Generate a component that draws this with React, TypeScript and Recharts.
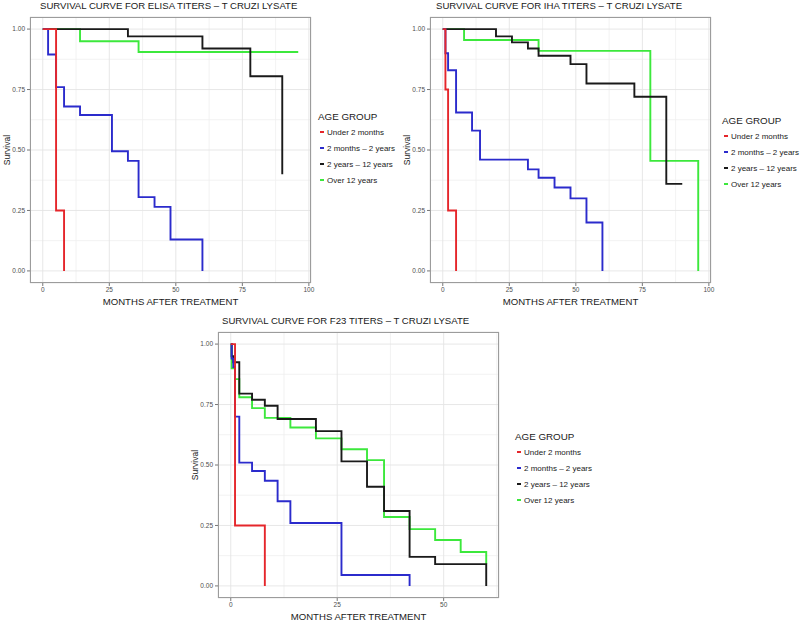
import React from 'react';
import { LineChart, Line, XAxis, YAxis, CartesianGrid } from 'recharts';

const FONT = '"Liberation Sans", Arial, Helvetica, sans-serif';

const groupNames = ['Under 2 months', '2 months – 2 years', '2 years – 12 years', 'Over 12 years'];
const groupColors = ['#E5262B', '#2B2BCC', '#1A1A1A', '#3CE83C'];

// ELISA panel
const elisaUnder2mT = [0, 5, 8];
const elisaUnder2mS = [1, 0.25, 0];
const elisa2m2yT = [0, 2, 5, 8, 14, 26, 32, 36, 42, 48, 60];
const elisa2m2yS = [1, 0.895, 0.76, 0.68, 0.645, 0.495, 0.455, 0.305, 0.265, 0.13, 0];
const elisa2y12yT = [0, 32, 60, 78, 90];
const elisa2y12yS = [1, 0.97, 0.92, 0.805, 0.4];
const elisaOver12T = [0, 14, 36, 96];
const elisaOver12S = [1, 0.95, 0.905, 0.905];

// IHA panel
const ihaUnder2mT = [0, 1, 2, 5];
const ihaUnder2mS = [1, 0.75, 0.25, 0];
const iha2m2yT = [0, 1, 2, 5, 11, 14, 32, 36, 42, 48, 54, 60];
const iha2m2yS = [1, 0.9, 0.83, 0.655, 0.58, 0.46, 0.42, 0.385, 0.345, 0.3, 0.2, 0];
const iha2y12yT = [0, 20, 26, 32, 36, 48, 54, 72, 84, 90];
const iha2y12yS = [1, 0.97, 0.945, 0.92, 0.89, 0.855, 0.775, 0.72, 0.36, 0.36];
const ihaOver12T = [0, 8, 36, 78, 96];
const ihaOver12S = [1, 0.955, 0.91, 0.455, 0];

// F23 panel
const f23Under2mT = [0, 1, 8];
const f23Under2mS = [1, 0.25, 0];
const f232m2yT = [0, 0.2, 0.6, 1, 2, 5, 8, 11, 14, 26, 42];
const f232m2yS = [1, 0.94, 0.905, 0.7, 0.51, 0.475, 0.435, 0.35, 0.26, 0.045, 0];
const f232y12yT = [0, 0.2, 0.6, 2, 5, 8, 11, 20, 26, 32, 36, 42, 48, 60];
const f232y12yS = [1, 0.95, 0.925, 0.795, 0.77, 0.745, 0.69, 0.64, 0.515, 0.41, 0.31, 0.12, 0.09, 0];
const f23Over12T = [0, 0.2, 1, 2, 5, 8, 14, 20, 26, 32, 36, 42, 48, 54, 60];
const f23Over12S = [1, 0.9, 0.855, 0.78, 0.735, 0.695, 0.655, 0.61, 0.565, 0.52, 0.285, 0.235, 0.19, 0.14, 0.09];

const yTicks = [0, 0.25, 0.5, 0.75, 1];
const yMinor = [0.125, 0.375, 0.625, 0.875];
const xTicksLong = [0, 25, 50, 75, 100];
const xMinorLong = [12.5, 37.5, 62.5, 87.5];
const xTicksShort = [0, 25, 50];
const xMinorShort = [12.5, 37.5, 62.5];

const toRows = (t: number[], s: number[]) => t.map((v, i) => ({ t: v, s: s[i] }));

type PanelProps = {
  left: number;
  top: number;
  title: string;
  titleX: number;
  xDomain: [number, number];
  xTicks: number[];
  xMinor: number[];
  series: { t: number[]; s: number[] }[];
  legendX: number;
  legendY: number;
};

const W = 400;
const H = 300;
const PL = 30;
const PT = 17;
const PW = 281;
const PH = 266;

const Panel: React.FC<PanelProps> = ({ left, top, title, titleX, xDomain, xTicks, xMinor, series, legendX, legendY }) => {
  const tick = { fontSize: 6.5, fill: '#4d4d4d', fontFamily: FONT };
  const order = [3, 2, 1, 0];
  return (
    <div style={{ position: 'absolute', left, top, width: W, height: H }}>
      <LineChart width={W} height={H} margin={{ top: PT, right: W - PL - PW, bottom: 3, left: 0 }}>
        <CartesianGrid stroke="#efefef" strokeWidth={0.8} horizontalValues={yMinor} verticalValues={xMinor} />
        <CartesianGrid stroke="#e4e4e4" strokeWidth={0.9} />
        <XAxis
          type="number"
          dataKey="t"
          domain={xDomain}
          ticks={xTicks}
          allowDataOverflow
          axisLine={false}
          tickSize={3}
          tickMargin={1}
          height={14}
          tick={tick}
          tickLine={{ stroke: '#777' }}
        />
        <YAxis
          type="number"
          domain={[-0.05, 1.05]}
          ticks={yTicks}
          allowDataOverflow
          axisLine={false}
          tickSize={3}
          tickMargin={2}
          width={PL}
          tick={tick}
          tickLine={{ stroke: '#777' }}
          tickFormatter={(v: number) => v.toFixed(2)}
        />
        {order.map((g) => (
          <Line
            key={g}
            data={toRows(series[g].t, series[g].s)}
            dataKey="s"
            type="stepAfter"
            stroke={groupColors[g]}
            strokeWidth={1.9}
            dot={false}
            isAnimationActive={false}
          />
        ))}
      </LineChart>
      <div
        style={{
          position: 'absolute',
          left: PL,
          top: PT,
          width: PW,
          height: PH,
          border: '1px solid #9c9c9c',
          boxSizing: 'border-box',
          pointerEvents: 'none',
        }}
      />
      <div
        style={{
          position: 'absolute',
          left: titleX,
          top: PT - 17,
          fontSize: 9.6,
          lineHeight: '12px',
          color: '#1a1a1a',
          whiteSpace: 'nowrap',
          fontFamily: FONT,
        }}
      >
        {title}
      </div>
      <div
        style={{
          position: 'absolute',
          left: PL,
          width: PW,
          top: PT + PH + 13,
          textAlign: 'center',
          fontSize: 9.6,
          lineHeight: '12px',
          color: '#1a1a1a',
          whiteSpace: 'nowrap',
          fontFamily: FONT,
        }}
      >
        MONTHS AFTER TREATMENT
      </div>
      <div
        style={{
          position: 'absolute',
          left: PL - 23 - 30,
          top: PT + PH / 2 - 6,
          width: 60,
          textAlign: 'center',
          fontSize: 8.5,
          lineHeight: '12px',
          color: '#1a1a1a',
          transform: 'rotate(-90deg)',
          fontFamily: FONT,
        }}
      >
        Survival
      </div>
      <div style={{ position: 'absolute', left: legendX, top: legendY, fontFamily: FONT, whiteSpace: 'nowrap' }}>
        <div style={{ fontSize: 9.8, lineHeight: '14px', color: '#1a1a1a' }}>AGE GROUP</div>
        {groupNames.map((n, i) => (
          <div key={n} style={{ display: 'flex', alignItems: 'center', height: 16, paddingLeft: 2 }}>
            <span style={{ display: 'inline-block', width: 4, height: 1.6, background: groupColors[i], marginRight: 3 }} />
            <span style={{ fontSize: 8, color: '#1a1a1a' }}>{n}</span>
          </div>
        ))}
      </div>
    </div>
  );
};

export default function App() {
  return (
    <div style={{ position: 'fixed', left: 0, top: 0, width: 800, height: 621, overflow: 'hidden', background: '#fff' }}>
      <Panel
        left={0}
        top={0}
        title="SURVIVAL CURVE FOR ELISA TITERS – T CRUZI LYSATE"
        titleX={40}
        xDomain={[-4.8, 100.8]}
        xTicks={xTicksLong}
        xMinor={xMinorLong}
        series={[
          { t: elisaUnder2mT, s: elisaUnder2mS },
          { t: elisa2m2yT, s: elisa2m2yS },
          { t: elisa2y12yT, s: elisa2y12yS },
          { t: elisaOver12T, s: elisaOver12S },
        ]}
        legendX={318}
        legendY={110}
      />
      <Panel
        left={400}
        top={0}
        title="SURVIVAL CURVE FOR IHA TITERS – T CRUZI LYSATE"
        titleX={36}
        xDomain={[-4.8, 100.8]}
        xTicks={xTicksLong}
        xMinor={xMinorLong}
        series={[
          { t: ihaUnder2mT, s: ihaUnder2mS },
          { t: iha2m2yT, s: iha2m2yS },
          { t: iha2y12yT, s: iha2y12yS },
          { t: ihaOver12T, s: ihaOver12S },
        ]}
        legendX={322}
        legendY={114}
      />
      <Panel
        left={188}
        top={315}
        title="SURVIVAL CURVE FOR F23 TITERS – T CRUZI LYSATE"
        titleX={34}
        xDomain={[-3, 63]}
        xTicks={xTicksShort}
        xMinor={xMinorShort}
        series={[
          { t: f23Under2mT, s: f23Under2mS },
          { t: f232m2yT, s: f232m2yS },
          { t: f232y12yT, s: f232y12yS },
          { t: f23Over12T, s: f23Over12S },
        ]}
        legendX={327}
        legendY={115}
      />
    </div>
  );
}
